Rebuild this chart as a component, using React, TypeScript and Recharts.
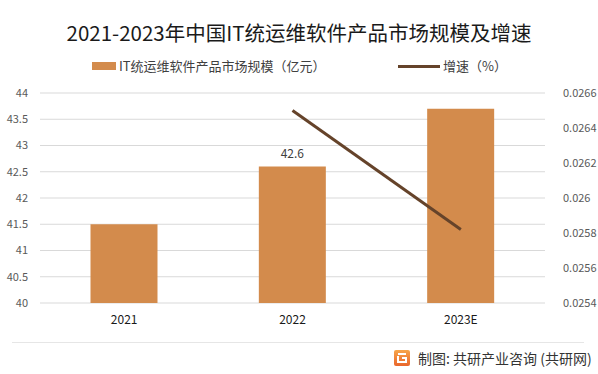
import React from 'react';
import {
  ComposedChart,
  Bar,
  Line,
  XAxis,
  YAxis,
  CartesianGrid,
  LabelList,
} from 'recharts';

const years = ['2021', '2022', '2023E'];
const marketSize = [41.5, 42.6, 43.7];
const growth = [null, 0.0265, 0.02582];
const leftTicks = [40, 40.5, 41, 41.5, 42, 42.5, 43, 43.5, 44];
const rightTicks = [0.0254, 0.0256, 0.0258, 0.026, 0.0262, 0.0264, 0.0266];
const labeledYears = ['2022'];

const FONT = '"Noto Sans CJK SC", "Noto Sans", sans-serif';
const BAR_COLOR = '#D38B4C';
const LINE_COLOR = '#65432A';

const chartData = years.map((year, i) => ({
  year,
  size: marketSize[i],
  growth: growth[i],
}));

function ChartLegend() {
  return (
    <div
      style={{
        position: 'absolute',
        left: 0,
        top: 57,
        width: 598,
        height: 20,
        fontSize: 13,
        color: '#404040',
        lineHeight: '18px',
      }}
    >
      <div style={{ position: 'absolute', left: 92, top: 0, display: 'flex', alignItems: 'center' }}>
        <span style={{ width: 24, height: 8, background: BAR_COLOR, marginRight: 3 }} />
        <span>IT统运维软件产品市场规模（亿元）</span>
      </div>
      <div style={{ position: 'absolute', left: 398, top: 0, display: 'flex', alignItems: 'center' }}>
        <span style={{ width: 42, height: 3, background: LINE_COLOR, marginRight: 3 }} />
        <span>增速（%）</span>
      </div>
    </div>
  );
}

function BarLabel(props: any) {
  const { x, y, width, value, index } = props;
  if (!labeledYears.includes(years[index])) return null;
  return (
    <text
      x={x + width / 2}
      y={y - 9}
      textAnchor="middle"
      fontSize={12}
      fill="#404040"
      fontFamily={FONT}
    >
      {value}
    </text>
  );
}

export default function App() {
  return (
    <div
      style={{
        position: 'absolute',
        left: 0,
        top: 0,
        width: 598,
        height: 374,
        background: '#fff',
        fontFamily: FONT,
      }}
    >
      <div
        style={{
          position: 'absolute',
          left: 0,
          top: 18,
          width: 598,
          textAlign: 'center',
          fontSize: 20.5,
          color: '#1a1a1a',
          lineHeight: '28px',
        }}
      >
        2021-2023年中国IT统运维软件产品市场规模及增速
      </div>

      <ChartLegend />

      <div style={{ position: 'absolute', left: 0, top: 0 }}>
        <ComposedChart
          width={598}
          height={374}
          data={chartData}
          margin={{ top: 93, right: 0, left: 0, bottom: 41 }}
          barCategoryGap="30%"
        >
          <CartesianGrid yAxisId="left" vertical={false} stroke="#d9d9d9" />
          <XAxis
            dataKey="year"
            tickLine={false}
            axisLine={false}
            height={30}
            tick={{ fontSize: 12, fill: '#1a1a1a', fontFamily: FONT }}
            tickMargin={6}
          />
          <YAxis
            yAxisId="left"
            domain={[40, 44]}
            ticks={leftTicks}
            width={40}
            tickLine={false}
            axisLine={false}
            tick={{ fontSize: 11, fill: '#595959', fontFamily: FONT }}
            tickMargin={6}
          />
          <YAxis
            yAxisId="right"
            orientation="right"
            domain={[0.0254, 0.0266]}
            ticks={rightTicks}
            width={53}
            tickLine={false}
            axisLine={false}
            tickFormatter={(v: number) => String(+v.toFixed(4))}
            tick={{ fontSize: 11, fill: '#595959', fontFamily: FONT }}
            tickMargin={12}
          />
          <Bar yAxisId="left" dataKey="size" fill={BAR_COLOR} isAnimationActive={false}>
            <LabelList dataKey="size" content={<BarLabel />} />
          </Bar>
          <Line
            yAxisId="right"
            dataKey="growth"
            stroke={LINE_COLOR}
            strokeWidth={3}
            dot={false}
            activeDot={false}
            isAnimationActive={false}
          />
        </ComposedChart>
      </div>

      <div
        style={{
          position: 'absolute',
          left: 12,
          top: 342,
          width: 572,
          height: 1,
          background: '#e6e6e6',
        }}
      />
      <div
        style={{
          position: 'absolute',
          left: 394,
          top: 348,
          display: 'flex',
          alignItems: 'center',
          fontSize: 14,
          color: '#333',
          lineHeight: '20px',
        }}
      >
        <svg width={16} height={16} style={{ marginRight: 8 }}>
          <defs>
            <linearGradient id="logoGrad" x1="0" y1="0" x2="0" y2="1">
              <stop offset="0" stopColor="#f7a54a" />
              <stop offset="1" stopColor="#e9662c" />
            </linearGradient>
          </defs>
          <rect x={0} y={0} width={16} height={16} rx={2} fill="url(#logoGrad)" />
          <path d="M4 4 H12 M8 8 H12 V12 H4 V6" stroke="#fff" strokeWidth={2} fill="none" />
        </svg>
        <span>制图: 共研产业咨询 (共研网)</span>
      </div>
    </div>
  );
}
